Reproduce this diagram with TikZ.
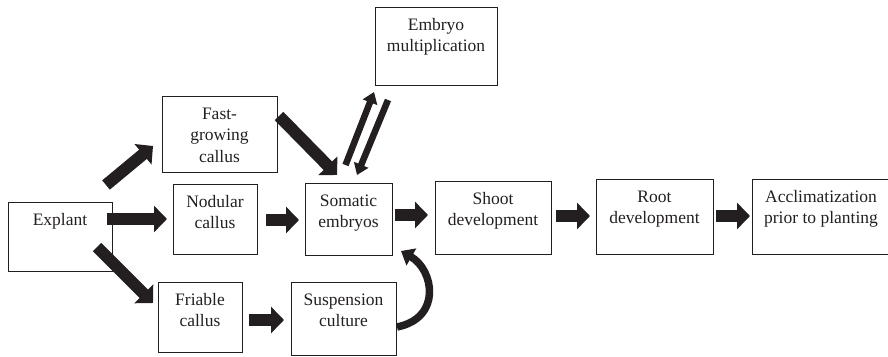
\documentclass[tikz,border=0pt]{standalone}
\usepackage{fontspec}
\setmainfont{Liberation Serif}
\newfontfamily\stagefont{Liberation Serif}
\usetikzlibrary{arrows.meta,calc,fit}
\definecolor{ink}{HTML}{231F20}
\tikzset{
  stagebox/.style={draw=ink, line width=0.9pt, inner sep=0pt, outer sep=0pt},
  stagetext/.style={font=\stagefont\fontsize{17.5}{21.7}\selectfont, align=center,
                    inner sep=0pt, text=ink, anchor=north},
  flow/.style={draw=ink, line width=12pt, -{Triangle[width=26pt,length=13pt]}},
  thinflow/.style={draw=ink, line width=6.5pt, -{Triangle[width=15pt,length=11pt]}},
  curveflow/.style={draw=ink, line width=7.5pt, -{Triangle[width=19pt,length=12pt]}},
}
% a stage: name, left, top, right, bottom, label (label hangs from the top edge)
\newcommand\stage[6]{%
  \node[stagebox, fit={(#2,#3) (#4,#5)}] (#1) {};
  \node[stagetext] (#1-t) at ([yshift=-10pt]#1.north) {\rule{0pt}{13pt}#6};
}
\begin{document}
\begin{tikzpicture}[x=1pt,y=-1pt]
\useasboundingbox (0,0) rectangle (888,356);
\clip (0,0) rectangle (888,356);

\stage{explant}{8}{202}{112}{271}{Explant}
\stage{fast}{162}{96}{277}{172}{Fast-\\growing\\callus}
\stage{nodular}{173}{184}{257}{254}{Nodular\\callus}
\stage{friable}{158}{282}{242}{352}{Friable\\callus}
\stage{susp}{291}{282}{396}{355}{Suspension\\culture}
\stage{somatic}{305}{183}{392}{255}{Somatic\\embryos}
\stage{embryo}{375}{7}{497}{85}{Embryo\\multiplication}
\stage{shoot}{435}{181}{551}{254}{Shoot\\development}
\stage{root}{596}{179}{713}{254}{Root\\development}
\stage{accl}{752}{179}{890}{254}{Acclimatization\\prior to planting}

% straight block arrows
\draw[flow] ($(explant.north east)+(-5,17)$) -- ($(nodular.north west)+(-6,35)$);
\draw[flow] ($(nodular.north east)+(9,36)$) -- ($(somatic.north west)+(-6,37)$);
\draw[flow] ($(somatic.north east)+(3,32)$) -- ($(shoot.north west)+(-7,34)$);
\draw[flow] ($(shoot.north east)+(5,35)$) -- ($(root.north west)+(-6,37)$);
\draw[flow] ($(root.north east)+(3,37)$) -- ($(accl.north west)+(-2,37)$);
\draw[flow] ($(friable.north east)+(7,38)$) -- ($(susp.north west)+(-7,38)$);

% diagonal block arrows
\draw[flow] ($(explant.north east)+(-6,-17)$) -- ($(fast.south west)+(-9,-26)$);
\draw[flow] ($(explant.south east)+(-15,-24)$) -- ($(friable.north west)+(-5,21)$);
\draw[flow] ($(fast.north east)+(2,20)$) -- ($(somatic.north west)+(32,-8)$);

% two-way link with embryo multiplication
\draw[thinflow] ($(somatic.north)+(-3,-18)$) -- ($(embryo.south west)+(-1,7)$);
\draw[thinflow] ($(embryo.south west)+(13,15)$) -- ($(somatic.north)+(8.5,-8)$);

% curved return from the suspension culture
\draw[curveflow] ($(susp.north east)+(1,45)$)
  .. controls ($(susp.north east)+(46,36)$) and ($(somatic.south east)+(42,15)$)
  .. ($(somatic.south east)+(9,-4)$);
\end{tikzpicture}
\end{document}
